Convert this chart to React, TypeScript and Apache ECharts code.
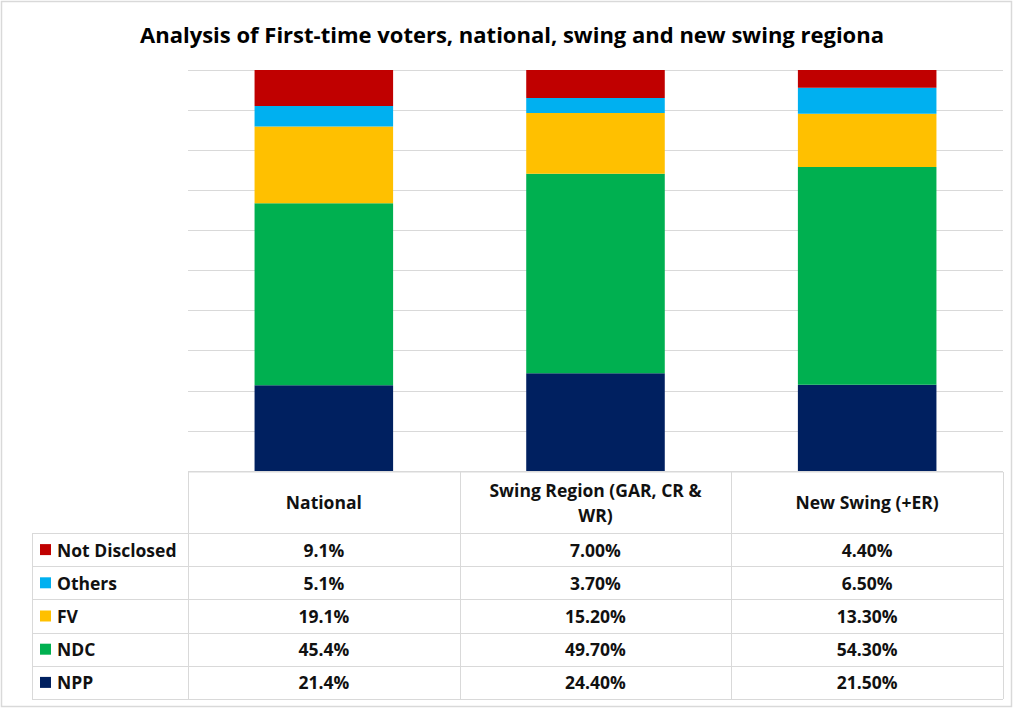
import React, { useEffect, useRef } from "react";
import * as echarts from "echarts";

const categories = ["National", "Swing Region (GAR, CR & WR)", "New Swing (+ER)"];
const headerLines = [["National"], ["Swing Region (GAR, CR &", "WR)"], ["New Swing (+ER)"]];
const decimals = [1, 2, 2];

const seriesNames = ["NPP", "NDC", "FV", "Others", "Not Disclosed"];
const seriesColors = ["#002060", "#00B050", "#FFC000", "#00B0F0", "#C00000"];
const nppValues = [21.4, 24.4, 21.5];
const ndcValues = [45.4, 49.7, 54.3];
const fvValues = [19.1, 15.2, 13.3];
const othersValues = [5.1, 3.7, 6.5];
const notDisclosedValues = [9.1, 7.0, 4.4];
const seriesValues = [nppValues, ndcValues, fvValues, othersValues, notDisclosedValues];

const yTicks = { min: 0, max: 100, interval: 10 };

export default function App() {
  const ref = useRef<HTMLDivElement>(null);
  useEffect(() => {
    if (!ref.current) return;
    const chart = echarts.init(ref.current, undefined, { renderer: "svg" });
    const W = 1024;
    const H = 710;
    const gridLeft = 188;
    const gridRight = 1003;
    const gridTop = 70;
    const gridBottom = 471;
    const legendLeft = 32;
    const headerBottom = 533;
    const rowH = 33.2;
    const colW = (gridRight - gridLeft) / categories.length;
    const font = "'Open Sans', Lato, sans-serif";
    const lineStyle = { stroke: "#d9d9d9", lineWidth: 1 };
    const cellFont = `bold 17.5px ${font}`;

    const graphics: any[] = [];
    graphics.push({
      type: "rect",
      shape: { x: 1.5, y: 1.5, width: 1010, height: 705 },
      style: { fill: "none", stroke: "#d9d9d9", lineWidth: 1.5 },
      silent: true,
    });
    const rowOrder = [4, 3, 2, 1, 0];
    const tableBottom = headerBottom + rowH * rowOrder.length;
    graphics.push({ type: "line", shape: { x1: gridLeft, y1: gridBottom + 1, x2: gridRight, y2: gridBottom + 1 }, style: lineStyle });
    for (let i = 0; i <= rowOrder.length; i++) {
      const y = Math.round(headerBottom + rowH * i) + 0.5;
      graphics.push({ type: "line", shape: { x1: legendLeft, y1: y, x2: gridRight, y2: y }, style: lineStyle });
    }
    graphics.push({ type: "line", shape: { x1: legendLeft + 0.5, y1: headerBottom, x2: legendLeft + 0.5, y2: tableBottom }, style: lineStyle });
    for (let c = 0; c <= categories.length; c++) {
      const x = Math.round(gridLeft + colW * c) + 0.5;
      graphics.push({ type: "line", shape: { x1: x, y1: gridBottom + 1, x2: x, y2: tableBottom }, style: lineStyle });
    }
    headerLines.forEach((lines, c) => {
      const cx = gridLeft + colW * (c + 0.5);
      const cy = (gridBottom + headerBottom) / 2;
      const lh = 25;
      lines.forEach((t, k) => {
        graphics.push({
          type: "text",
          style: {
            text: t,
            x: cx,
            y: cy + (k - (lines.length - 1) / 2) * lh,
            textAlign: "center",
            textVerticalAlign: "middle",
            font: cellFont,
            fill: "#111",
          },
        });
      });
    });
    rowOrder.forEach((s, r) => {
      const cy = headerBottom + rowH * (r + 0.5);
      graphics.push({
        type: "rect",
        shape: { x: 40, y: cy - 5.5, width: 11, height: 11 },
        style: { fill: seriesColors[s] },
      });
      graphics.push({
        type: "text",
        style: {
          text: seriesNames[s],
          x: 57,
          y: cy,
          textAlign: "left",
          textVerticalAlign: "middle",
          font: cellFont,
          fill: "#111",
        },
      });
      categories.forEach((_, c) => {
        graphics.push({
          type: "text",
          style: {
            text: seriesValues[s][c].toFixed(decimals[c]) + "%",
            x: gridLeft + colW * (c + 0.5),
            y: cy,
            textAlign: "center",
            textVerticalAlign: "middle",
            font: cellFont,
            fill: "#111",
          },
        });
      });
    });

    chart.setOption({
      animation: false,
      backgroundColor: "#fff",
      title: {
        text: "Analysis of First-time voters, national, swing and new swing regiona",
        left: "center",
        top: 18,
        textStyle: { fontFamily: font, fontWeight: "bold", fontSize: 22, color: "#000" },
      },
      grid: { left: gridLeft, right: W - gridRight, top: gridTop, bottom: H - gridBottom, containLabel: false },
      xAxis: {
        type: "category",
        data: categories,
        axisLabel: { show: false },
        axisTick: { show: false },
        axisLine: { show: false },
      },
      yAxis: {
        type: "value",
        min: yTicks.min,
        max: yTicks.max,
        interval: yTicks.interval,
        axisLabel: { show: false },
        axisLine: { show: false },
        axisTick: { show: false },
        splitLine: { lineStyle: { color: "#d9d9d9", width: 1 } },
      },
      series: seriesNames.map((name, i) => ({
        name,
        type: "bar",
        stack: "total",
        barWidth: "51%",
        data: seriesValues[i],
        itemStyle: { color: seriesColors[i] },
      })),
      graphic: { elements: graphics },
    });
    return () => chart.dispose();
  }, []);
  return (
    <div
      ref={ref}
      style={{ position: "absolute", left: 0, top: 0, width: 1024, height: 710, background: "#fff" }}
    />
  );
}
